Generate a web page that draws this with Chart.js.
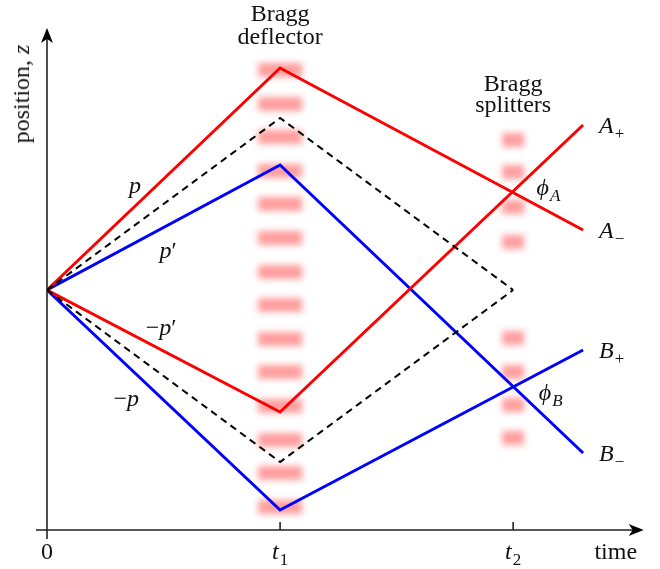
<!DOCTYPE html>
<html>
<head>
<meta charset="utf-8">
<script src="https://cdn.jsdelivr.net/npm/chart.js@4.4.1/dist/chart.umd.min.js"></script>
<style>
  html, body { margin: 0; padding: 0; background: #fff; }
  #wrap { position: relative; width: 660px; height: 569px; }
  #myChart { position: absolute; left: 0; top: 0; }
  .lbl { position: absolute; font-family: 'Liberation Serif'; font-size: 24px; line-height: 1; white-space: nowrap; color: #111; }
  .lbl sub { font-size: 17px; vertical-align: -6px; line-height: 0; margin-left: 1px; }
</style>
</head>
<body>
<div id="wrap"><canvas id="myChart" width="660" height="569"></canvas></div>
<script>
// time in units of t1
const pathTimes = [0, 1, 2.3];
const dashTimes = [0, 1, 2];
const tickTimes = [0, 1, 2];
const tickLabels = ['0', '<i>t</i><sub>1</sub>', '<i>t</i><sub>2</sub>'];

// position z of each arm at pathTimes / dashTimes
const redUpper = [2.40, 4.62, 3.00];
const blueUpper = [2.40, 3.65, 0.77];
const redLower = [2.40, 1.18, 4.05];
const blueLower = [2.40, 0.20, 1.80];
const dashUpper = [2.40, 4.12, 2.40];
const dashLower = [2.40, 0.68, 2.40];

// Bragg pulses (z of each fringe)
const deflectorTime = 1;
const deflectorBands = [4.60, 4.26, 3.93, 3.59, 3.26, 2.92, 2.58, 2.25, 1.91, 1.58, 1.24, 0.90, 0.57, 0.23];
const splitterTime = 2;
const splitterBands = [3.90, 3.58, 3.23, 2.88, 1.92, 1.58, 1.25, 0.92];

const pts = (ts, zs) => ts.map((t, i) => ({x: t, y: zs[i]}));

const arm = (label, ts, zs, color, dash) => ({
  label: label,
  data: pts(ts, zs),
  showLine: true,
  borderColor: color,
  borderWidth: dash ? 2 : 3,
  borderDash: dash ? [7, 5] : [],
  borderJoinStyle: 'miter',
  borderCapStyle: 'butt',
  pointRadius: 0,
  tension: 0,
  fill: false
});

function stealth(ctx, x, y, ang) {
  ctx.save();
  ctx.translate(x, y);
  ctx.rotate(ang);
  ctx.beginPath();
  ctx.moveTo(0, 0);
  ctx.lineTo(-15, -6);
  ctx.lineTo(-11, 0);
  ctx.lineTo(-15, 6);
  ctx.closePath();
  ctx.fill();
  ctx.restore();
}

// soft fringe via shadow of an off-canvas rect
function fringe(ctx, cx, cy, w, h) {
  ctx.fillRect(cx - w / 2 - 2000, cy - h / 2, w, h);
}

const diagram = {
  id: 'diagram',
  beforeDatasetsDraw(chart) {
    const {ctx, scales: {x, y}} = chart;
    ctx.save();
    // Bragg pulses
    ctx.fillStyle = '#000';
    ctx.shadowColor = 'rgba(255, 40, 40, 0.45)';
    ctx.shadowBlur = 6;
    ctx.shadowOffsetX = 2000;
    ctx.shadowOffsetY = 0;
    deflectorBands.forEach(z => fringe(ctx, x.getPixelForValue(deflectorTime), y.getPixelForValue(z), 44, 14));
    splitterBands.forEach(z => fringe(ctx, x.getPixelForValue(splitterTime), y.getPixelForValue(z), 22, 14));
    ctx.restore();

    // axes
    ctx.save();
    const x0 = x.getPixelForValue(0), y0 = y.getPixelForValue(0);
    ctx.strokeStyle = '#222';
    ctx.fillStyle = '#000';
    ctx.lineWidth = 1.6;
    ctx.beginPath();
    ctx.moveTo(x0 - 11, y0);
    ctx.lineTo(x.getPixelForValue(2.56) - 8, y0);
    ctx.moveTo(x0, y0 + 9);
    ctx.lineTo(x0, y.getPixelForValue(5.02) + 8);
    tickTimes.slice(1).forEach(t => {
      const px = x.getPixelForValue(t);
      ctx.moveTo(px, y0);
      ctx.lineTo(px, y0 - 8);
    });
    ctx.stroke();
    stealth(ctx, x.getPixelForValue(2.56), y0, 0);
    stealth(ctx, x0, y.getPixelForValue(5.02), -Math.PI / 2);
    ctx.restore();
  }
};

const config = {
  type: 'scatter',
  data: {
    datasets: [
      arm('dash upper', dashTimes, dashUpper, '#000', true),
      arm('dash lower', dashTimes, dashLower, '#000', true),
      arm('p', pathTimes, redUpper, '#ff0000'),
      arm('-p\'', pathTimes, redLower, '#ff0000'),
      arm('p\'', pathTimes, blueUpper, '#0000ff'),
      arm('-p', pathTimes, blueLower, '#0000ff')
    ]
  },
  options: {
    responsive: false,
    animation: false,
    devicePixelRatio: 1,
    layout: {padding: {left: 47, right: 7, top: 30, bottom: 39}},
    plugins: {legend: {display: false}, tooltip: {enabled: false}},
    scales: {
      x: {type: 'linear', min: 0, max: 2.6, display: false},
      y: {type: 'linear', min: 0, max: 5, display: false}
    }
  },
  plugins: [diagram]
};

var thisChart = new Chart(document.getElementById('myChart'), config);

// text labels as html on top of the canvas
const wrap = document.getElementById('wrap');
function addLabel(html, px, py, align, extra) {
  const el = document.createElement('span');
  el.className = 'lbl';
  el.innerHTML = html;
  el.style.left = px + 'px';
  el.style.top = py + 'px';
  el.style.transform = (align === 'left' ? 'translate(0, -50%)' : 'translate(-50%, -50%)') + (extra || '');
  wrap.appendChild(el);
}

const X = t => thisChart.scales.x.getPixelForValue(t);
const Y = z => thisChart.scales.y.getPixelForValue(z);

tickTimes.forEach((t, i) => addLabel(tickLabels[i], X(t), Y(0) + 21));
addLabel('time', X(2.44), Y(0) + 21);

addLabel('<i>p</i>', X(0.378), Y(3.45));
addLabel('<i>p</i>\u2032', X(0.52), Y(2.80));
addLabel('\u2212<i>p</i>\u2032', X(0.49), Y(2.03));
addLabel('\u2212<i>p</i>', X(0.34), Y(1.32));

const end = pathTimes[pathTimes.length - 1];
addLabel('<i>A</i><sub>+</sub>', X(end) + 16, Y(redLower[2]), 'left');
addLabel('<i>A</i><sub>\u2212</sub>', X(end) + 16, Y(redUpper[2]), 'left');
addLabel('<i>B</i><sub>+</sub>', X(end) + 16, Y(blueLower[2]), 'left');
addLabel('<i>B</i><sub>\u2212</sub>', X(end) + 16, Y(blueUpper[2]), 'left');

addLabel('<i>\u03D5</i><sub><i>A</i></sub>', X(2.10), Y(3.43), 'left');
addLabel('<i>\u03D5</i><sub><i>B</i></sub>', X(2.11), Y(1.38), 'left');

addLabel('Bragg', X(deflectorTime), 13);
addLabel('deflector', X(deflectorTime), 36);
addLabel('Bragg', X(splitterTime), 83);
addLabel('splitters', X(splitterTime), 104);

addLabel('position, <i>z</i>', 21, 94, 'center', ' rotate(-90deg)');
</script>
</body>
</html>
